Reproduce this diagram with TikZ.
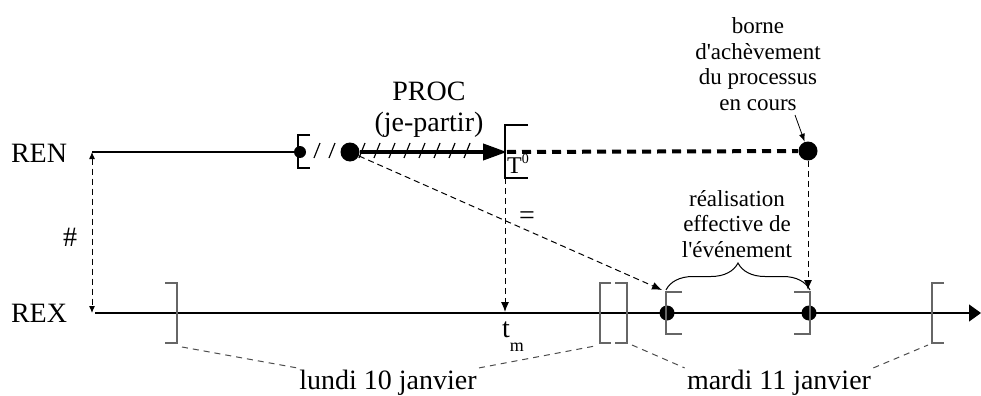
\documentclass[tikz,border=0pt]{standalone}
\usepackage{fontspec}
\setmainfont{Liberation Serif}
\usetikzlibrary{arrows.meta,decorations.pathreplacing}

\tikzset{
  axe/.style={line width=0.6pt},
  borne/.style={black!60,line width=0.8pt},
  lien/.style={black!70,line width=0.5pt,dash pattern=on 3pt off 2.5pt},
  fleche/.style={line width=0.5pt,dash pattern=on 3pt off 2pt,-{Latex[length=5pt,width=4pt]}},
  gros/.style={font=\fontsize{14}{15.5}\selectfont,inner sep=1pt},
  petit/.style={font=\fontsize{11.5}{12.8}\selectfont,align=center,inner sep=1pt},
  point/.style={circle,fill,inner sep=0pt,minimum size=#1}
}

\begin{document}
\begin{tikzpicture}[x=0.5pt,y=-0.5pt]
\useasboundingbox (0,0) rectangle (981,396);

% les deux axes
\node[gros] (ren) at (39,153) {REN};
\node[gros] (rex) at (39,313) {REX};
\coordinate (ren0) at (92,152);
\coordinate (rex0) at (92,313);
\coordinate (rexfin) at (981,313);
\draw[axe,-{Triangle[length=6pt,width=8.5pt]}] (95,313) -- (rexfin);
\draw[fleche,{Latex[length=3.5pt,width=3pt]}-{Latex[length=3.5pt,width=3pt]}] (ren0) -- (rex0);
\node[gros] (diese) at (70,237) {\#};

% processus sur REN
\node[point=6pt] (debut) at (300,152) {};
\node[point=9.5pt] (proc) at (350,152) {};
\node[point=9.5pt] (fin) at (808,151) {};
\coordinate (t0) at (507,152);
\draw[axe] (ren0) -- (debut);
\draw[line width=0.6pt] (310,135) -- (298,135) -- (298,168) -- (310,168);
\foreach \x in {317,332,...,467}
  \draw[line width=0.6pt] (\x-3,158) -- (\x+3,143);
\draw[line width=2pt,-{Triangle[length=12pt,width=8pt]}] (proc) -- (t0);
\draw[line width=2pt,dash pattern=on 4.5pt off 3pt] (t0) -- (fin);
\node[gros,align=center] (proclbl) at (429,110) {PROC\\(je-partir)};

% borne T0
\draw[line width=0.6pt] (528,125) -- (505,125) -- (505,178) -- (528,178);
\node[font=\fontsize{12}{13}\selectfont,inner sep=0pt] (T0lbl) at (518,164) {T\raisebox{0.9ex}{\scriptsize 0}};
\coordinate (t0bas) at (505,178);
\coordinate (tm) at (505,312);
\draw[fleche] (t0bas) -- (tm);
\node[gros] (egal) at (527,218) {=};
\node[gros,inner sep=0pt] (tmlbl) at (513,337) {t\raisebox{-1.1ex}{\small m}};

% borne d'achevement
\node[petit] (bornelbl) at (758,64) {borne\\d\textquotesingle achèvement\\du processus\\en cours};
\coordinate (bornept) at (795,115);
\draw[line width=0.4pt,-{Latex[length=4pt,width=3pt]}] (bornept) -- (fin);

% realisation effective
\node[point=7.5pt] (ev1) at (667,313) {};
\node[point=7.5pt] (ev2) at (809,313) {};
\draw[line width=1.2pt] (ev1) -- (ev2);
\draw[borne] (682,292) -- (666,292) -- (666,334) -- (682,334);
\draw[borne] (794,292) -- (810,292) -- (810,334) -- (794,334);
\coordinate (ev1haut) at (662,290);
\coordinate (ev2haut) at (808,290);
\draw[fleche] (proc) -- (ev1haut);
\draw[fleche] (fin) -- (ev2haut);
\draw[line width=0.5pt,decorate,decoration={brace,amplitude=13.5pt}] (666,290) -- (810,290);
\node[petit] (reallbl) at (737,224) {réalisation\\effective de\\l\textquotesingle événement};

% jours sur REX
\draw[borne] (165,283) -- (177,283) -- (177,343) -- (165,343);
\draw[borne] (611,283) -- (600,283) -- (600,343) -- (611,343);
\draw[borne] (615,283) -- (627,283) -- (627,343) -- (615,343);
\draw[borne] (944,283) -- (932,283) -- (932,343) -- (944,343);
\coordinate (b1bas) at (182,347);
\coordinate (b2bas) at (595,346);
\coordinate (b3bas) at (632,345);
\coordinate (b4bas) at (928,345);
\node[gros] (lundi) at (388,383) {lundi 10 janvier};
\node[gros] (mardi) at (779,383) {mardi 11 janvier};
\draw[lien] (b1bas) -- (lundi.north west);
\draw[lien] (lundi.north east) -- (b2bas);
\draw[lien] (b3bas) -- (mardi.north west);
\draw[lien] (mardi.north east) -- (b4bas);
\end{tikzpicture}
\end{document}
